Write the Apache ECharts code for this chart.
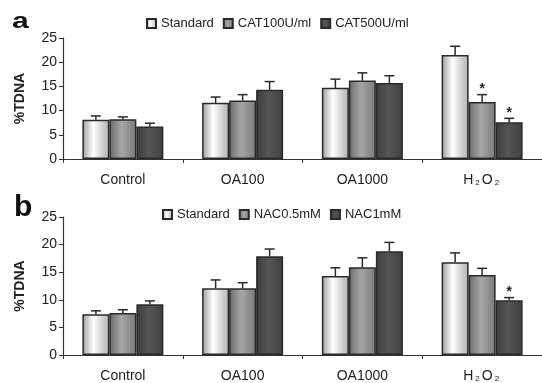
<!DOCTYPE html>
<html>
<head>
<meta charset="utf-8">
<script src="https://cdn.jsdelivr.net/npm/echarts@6/dist/echarts.min.js"></script>
<style>
  html, body { margin: 0; padding: 0; background: #fff; }
  #main { width: 542px; height: 383px; }
</style>
</head>
<body>
<div id="main"></div>
<script>
const categories = ['Control', 'OA100', 'OA1000', 'H2O2']
const yTicks = [0, 5, 10, 15, 20, 25]

// panel a
const namesA = ['Standard', 'CAT100U/ml', 'CAT500U/ml']
const meanA = [
  [8.1, 11.6, 14.7, 21.5],
  [8.2, 12.1, 16.2, 11.8],
  [6.7, 14.3, 15.7, 7.6],
]
const errA = [
  [0.8, 1.2, 1.8, 1.8],
  [0.5, 1.2, 1.6, 1.5],
  [0.7, 1.7, 1.5, 0.8],
]
const sigA = [
  [0, 0, 0, 0],
  [0, 0, 0, 1],
  [0, 0, 0, 1],
]

// panel b
const namesB = ['Standard', 'NAC0.5mM', 'NAC1mM']
const meanB = [
  [7.4, 12.1, 14.3, 16.8],
  [7.6, 12.1, 15.9, 14.5],
  [9.2, 17.9, 18.8, 9.9],
]
const errB = [
  [0.6, 1.5, 1.5, 1.7],
  [0.6, 1.0, 1.7, 1.2],
  [0.6, 1.3, 1.6, 0.5],
]
const sigB = [
  [0, 0, 0, 0],
  [0, 0, 0, 0],
  [0, 0, 0, 1],
]

const BAR_W = 27
const FONT = 'Liberation Sans, Arial, sans-serif'

const fills = [
  new echarts.graphic.LinearGradient(0, 0, 1, 0, [
    { offset: 0, color: '#9c9c9c' },
    { offset: 0.4, color: '#ffffff' },
    { offset: 1, color: '#b0b0b0' },
  ]),
  new echarts.graphic.LinearGradient(0, 0, 1, 0, [
    { offset: 0, color: '#6a6a6a' },
    { offset: 0.45, color: '#a6a6a6' },
    { offset: 1, color: '#7a7a7a' },
  ]),
  new echarts.graphic.LinearGradient(0, 0, 1, 0, [
    { offset: 0, color: '#3c3c3c' },
    { offset: 0.45, color: '#555555' },
    { offset: 1, color: '#404040' },
  ]),
]

function catLabel(v) {
  if (v === 'H2O2') return '{n|H}{s|2}{n|O}{s|2}'
  return v
}

function xAxisFor(gi) {
  return {
    type: 'category',
    gridIndex: gi,
    data: categories,
    axisLine: { lineStyle: { color: '#333', width: 1.2 } },
    axisTick: { show: true, length: 4, lineStyle: { color: '#333' } },
    axisLabel: {
      interval: 0,
      margin: 14,
      color: '#222',
      fontSize: 14,
      fontFamily: FONT,
      formatter: catLabel,
      rich: {
        n: { fontSize: 14, fontFamily: FONT, color: '#222' },
        s: { fontSize: 8, fontFamily: FONT, color: '#222', padding: [6, 2, 0, 2] },
      },
    },
  }
}

function yAxisFor(gi) {
  return {
    type: 'value',
    gridIndex: gi,
    min: yTicks[0],
    max: yTicks[yTicks.length - 1],
    interval: 5,
    name: '%TDNA',
    nameLocation: 'middle',
    nameGap: 36,
    nameTextStyle: { fontSize: 14, fontWeight: 'bold', color: '#222', fontFamily: FONT },
    axisLine: { show: true, lineStyle: { color: '#333', width: 1.2 } },
    axisTick: { show: true, length: 4, lineStyle: { color: '#333' } },
    axisLabel: { color: '#222', fontSize: 14, fontFamily: FONT, margin: 6 },
    splitLine: { show: false },
  }
}

function barSeries(names, means, gi) {
  return names.map((name, k) => ({
    name: name,
    type: 'bar',
    xAxisIndex: gi,
    yAxisIndex: gi,
    barWidth: BAR_W,
    barGap: '0%',
    data: means[k],
    itemStyle: { color: fills[k], borderColor: '#2a2a2a', borderWidth: 1.5 },
  }))
}

// error whiskers (upper only) + significance stars
function errSeries(means, errs, sigs, gi) {
  const data = []
  means.forEach((row, k) => {
    row.forEach((m, c) => {
      data.push([c, m, errs[k][c], sigs[k][c], k])
    })
  })
  return {
    type: 'custom',
    xAxisIndex: gi,
    yAxisIndex: gi,
    z: 5,
    silent: true,
    data: data,
    encode: { x: 0, y: 1 },
    renderItem: function (params, api) {
      const c = api.value(0)
      const m = api.value(1)
      const e = api.value(2)
      const s = api.value(3)
      const k = api.value(4)
      const base = api.coord([c, m])
      const top = api.coord([c, m + e])
      const x = base[0] + (k - 1) * BAR_W
      const style = { stroke: '#2a2a2a', lineWidth: 1.5 }
      const children = [
        { type: 'line', shape: { x1: x, y1: base[1], x2: x, y2: top[1] }, style: style },
        { type: 'line', shape: { x1: x - 5, y1: top[1], x2: x + 5, y2: top[1] }, style: style },
      ]
      if (s) {
        children.push({
          type: 'text',
          style: {
            text: '*',
            x: x,
            y: top[1] + 2,
            align: 'center',
            verticalAlign: 'bottom',
            fontSize: 14,
            fontWeight: 'bold',
            fontFamily: FONT,
            fill: '#222',
          },
        })
      }
      return { type: 'group', children: children }
    },
  }
}

function legendFor(names, left, top) {
  return {
    data: names,
    left: left,
    top: top,
    icon: 'rect',
    itemWidth: 9,
    itemHeight: 9,
    itemGap: 9,
    textStyle: { fontSize: 13, color: '#222', fontFamily: FONT },
    selectedMode: false,
  }
}

const myChart = echarts.init(document.getElementById('main'))
const option = {
  animation: false,
  backgroundColor: '#fff',
  grid: [
    { left: 63, top: 38, width: 490, height: 121 },
    { left: 63, top: 217, width: 490, height: 140 },
  ],
  legend: [legendFor(namesA, 141, 12), legendFor(namesB, 157, 203)],
  xAxis: [xAxisFor(0), xAxisFor(1)],
  yAxis: [yAxisFor(0), yAxisFor(1)],
  series: [
    ...barSeries(namesA, meanA, 0),
    errSeries(meanA, errA, sigA, 0),
    ...barSeries(namesB, meanB, 1),
    errSeries(meanB, errB, sigB, 1),
  ],
  graphic: [
    { type: 'text', x: 12, y: 11, scaleY: 0.75, style: { text: 'a', fontSize: 30, fontWeight: 'bold', fill: '#111', fontFamily: FONT, verticalAlign: 'top' } },
    { type: 'text', left: 14, top: 193, style: { text: 'b', fontSize: 30, fontWeight: 'bold', fill: '#111', fontFamily: FONT } },
  ],
}

option && myChart.setOption(option)
</script>
</body>
</html>
